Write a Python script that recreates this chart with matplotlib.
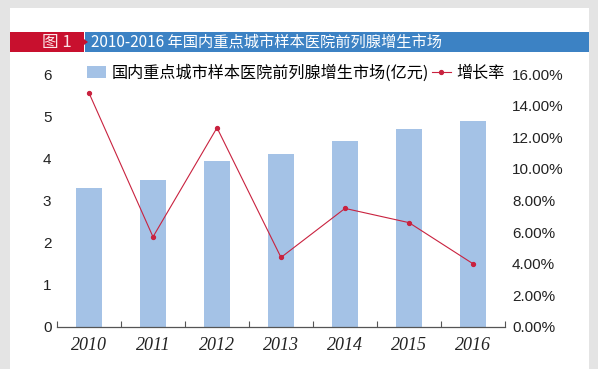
import matplotlib.pyplot as plt
from matplotlib.patches import Rectangle, Polygon
from matplotlib.ticker import FuncFormatter, FixedLocator

plt.rcParams['font.family'] = ['Liberation Sans', 'Noto Sans CJK SC', 'DejaVu Sans']

# 数据
years = ['2010', '2011', '2012', '2013', '2014', '2015', '2016']
market = [3.29, 3.48, 3.93, 4.10, 4.41, 4.69, 4.88]          # 亿元
growth = [14.8, 5.7, 12.6, 4.4, 7.5, 6.6, 4.0]                # %

bar_color = '#A4C2E6'
line_color = '#C9223F'

fig = plt.figure(figsize=(5.98, 3.69), dpi=100)
fig.patch.set_facecolor('#E4E4E4')

# 白色卡片背景
fig.add_artist(Rectangle((10 / 598, 0), 579 / 598, 1 - 8 / 369,
                         transform=fig.transFigure, facecolor='white',
                         edgecolor='none', zorder=0))

# 标题栏
y0 = 1 - 52 / 369
h = 20 / 369
fig.add_artist(Rectangle((10 / 598, y0), 74 / 598, h, transform=fig.transFigure,
                         facecolor='#C8102E', edgecolor='none'))
fig.add_artist(Rectangle((85 / 598, y0), 504 / 598, h, transform=fig.transFigure,
                         facecolor='#3C82C4', edgecolor='none'))
fig.add_artist(Polygon([(84 / 598, y0 + h * 0.35), (88 / 598, y0 + h * 0.5),
                        (84 / 598, y0 + h * 0.65)], transform=fig.transFigure,
                       facecolor='#C8102E', edgecolor='none'))
fig.text(57 / 598, y0 + h / 2, '图 1', color='#FBE3E6', fontsize=12,
         ha='center', va='center', family=['Noto Sans CJK SC'])
fig.text(91 / 598, y0 + h / 2, '2010-2016 年国内重点城市样本医院前列腺增生市场',
         color='white', fontsize=11, ha='left', va='center',
         family=['Noto Sans CJK SC'])

# 主图
ax = fig.add_axes([57 / 598, 1 - 327 / 369, 448 / 598, 253 / 369])
x = list(range(len(years)))
bars = ax.bar(x, market, width=0.4, color=bar_color, zorder=2,
              label='国内重点城市样本医院前列腺增生市场(亿元)')
ax.set_xlim(-0.5, len(years) - 0.5)
ax.set_ylim(0, 6)
ax.set_yticks(range(0, 7))
ax.set_xticks(x)
ax.set_xticklabels(years, family='Liberation Serif', style='italic',
                   fontsize=13, color='#222222')
ax.xaxis.set_minor_locator(FixedLocator([i - 0.5 for i in range(len(years) + 1)]))
ax.tick_params(axis='x', which='major', length=0, pad=7)
ax.tick_params(axis='x', which='minor', direction='in', length=4,
               color='#555555', width=0.8)
ax.tick_params(axis='y', length=0, labelsize=11, pad=4, labelcolor='#222222')
for s in ['left', 'right', 'top']:
    ax.spines[s].set_visible(False)
ax.spines['bottom'].set_color('#555555')
ax.spines['bottom'].set_linewidth(0.9)
ax.patch.set_alpha(0)

ax2 = ax.twinx()
line, = ax2.plot(x, growth, color=line_color, lw=0.8, marker='o',
                 markersize=2.8, label='增长率', zorder=3)
ax2.set_ylim(0, 16)
ax2.set_yticks(range(0, 17, 2))
ax2.yaxis.set_major_formatter(FuncFormatter(lambda v, p: f'{v:.2f}%'))
ax2.tick_params(axis='y', length=0, labelsize=11, pad=5, labelcolor='#222222')
for s in ['left', 'right', 'top', 'bottom']:
    ax2.spines[s].set_visible(False)

fig.legend(handles=[bars, line], loc='center left',
           bbox_to_anchor=(87 / 598, 1 - 73 / 369), bbox_transform=fig.transFigure,
           ncol=2, frameon=False, handlelength=1.2,
           handletextpad=0.3, columnspacing=0.2, borderaxespad=0, borderpad=0,
           prop={'family': ['Noto Sans CJK SC'], 'size': 11.6})

fig.savefig('out.png', dpi=100)
